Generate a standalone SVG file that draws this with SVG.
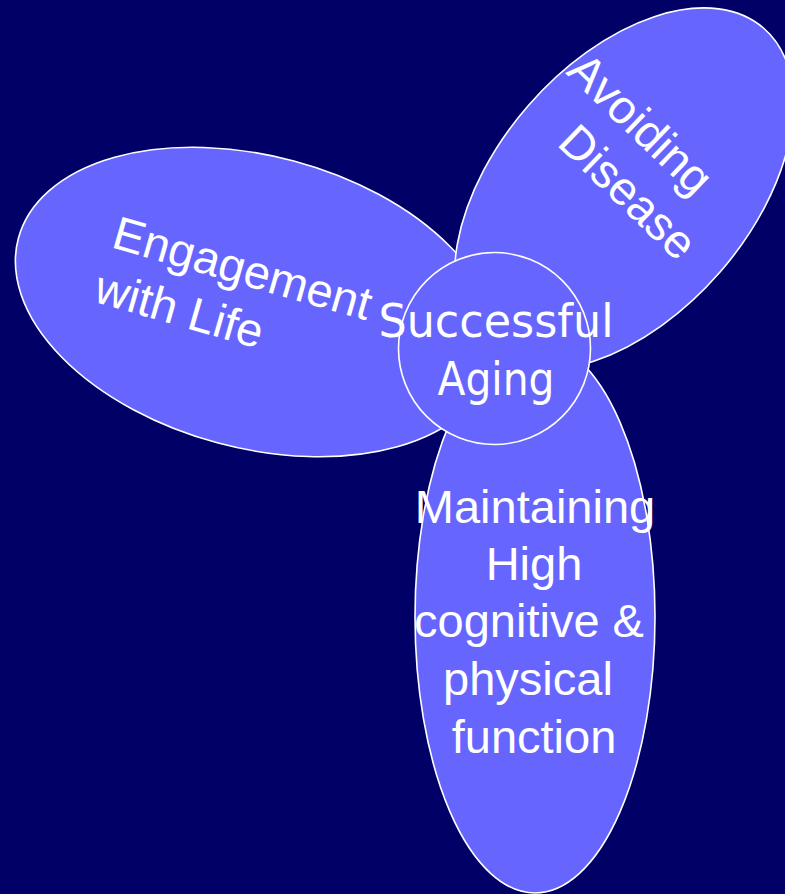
<svg xmlns="http://www.w3.org/2000/svg" width="785" height="894" viewBox="0 0 785 894">
<style>
.petal{fill:#6666FF;stroke:#FFFFFF;stroke-width:1.6}
.lbl{fill:#FFFFFF;font-family:"Liberation Sans",Arial,sans-serif;font-size:47px}
.hub{fill:#FFFFFF;font-family:"Comic Sans MS","DejaVu Sans",sans-serif;font-size:46px}
</style>
<rect x="0" y="0" width="785" height="894" fill="#000066"/>
<g id="connectors"></g>
<g id="engagement">
<ellipse class="petal" cx="256" cy="302" rx="246" ry="146" transform="rotate(15 256 302)"/>
<g transform="translate(110 247) rotate(16)">
<text class="lbl" x="0" y="0">Engagement</text>
<text class="lbl" x="-2" y="57">with Life</text>
</g>
</g>
<g id="avoiding">
<ellipse class="petal" cx="624" cy="189" rx="213" ry="127" transform="rotate(-49 624 189)"/>
<g transform="translate(565 73) rotate(44)">
<text class="lbl" x="0" y="0">Avoiding</text>
<text class="lbl" x="43" y="58">Disease</text>
</g>
</g>
<g id="maintaining">
<ellipse class="petal" cx="535" cy="617" rx="120" ry="276"/>
<text class="lbl" text-anchor="middle" x="535" y="523">Maintaining</text>
<text class="lbl" text-anchor="middle" x="534" y="580">High</text>
<text class="lbl" text-anchor="middle" x="529" y="637">cognitive &amp;</text>
<text class="lbl" text-anchor="middle" x="528" y="695">physical</text>
<text class="lbl" text-anchor="middle" x="534" y="753">function</text>
</g>
<g id="successful-aging">
<circle class="petal" cx="494.5" cy="348.5" r="96"/>
<text class="hub" text-anchor="middle" x="496" y="337" textLength="235" lengthAdjust="spacingAndGlyphs">Successful</text>
<text class="hub" text-anchor="middle" x="496" y="395" textLength="117" lengthAdjust="spacingAndGlyphs">Aging</text>
</g>
</svg>
